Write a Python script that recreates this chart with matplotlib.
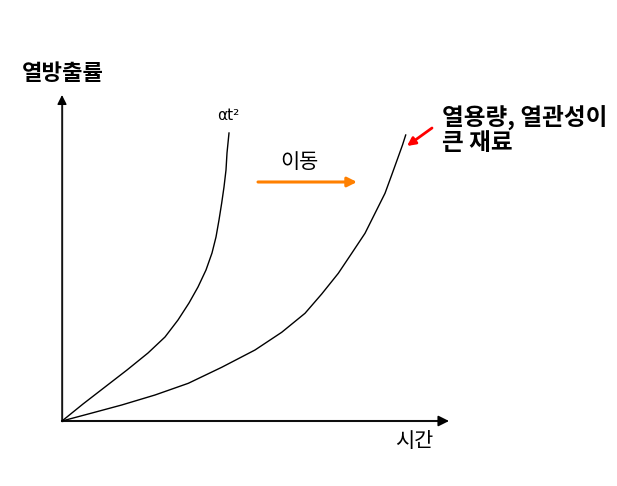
import numpy as np
import matplotlib.pyplot as plt

plt.rcParams['font.family'] = ['Noto Sans CJK KR', 'DejaVu Sans']

# 개략도: 원점 기준 좌표 (시간, 열방출률)
t_fast = [0, 21, 43, 65, 86, 103, 116, 127, 136, 144, 150, 154, 157, 159.7, 162, 164, 165, 167]
q_fast = [0, 17, 34, 51, 68, 84, 101, 118, 134, 151, 168, 184, 201, 218, 234, 251, 268, 288]

t_slow = [0, 30, 59.7, 93, 126.3, 159.7, 193, 219.7, 243, 259.7, 276.3, 289.7, 303, 313, 323,
          329.7, 336.3, 340.5, 343.7]
q_slow = [0, 8, 16, 26, 37.7, 53.7, 71, 88.7, 107.7, 127, 147.7, 167.7, 187.7, 207.7, 227.7,
          246, 264.3, 276, 286]

x_max, y_max = 387, 326
ylabel, xlabel = '열방출률', '시간'
fast_label = 'αt²'
shift_label = '이동'
slow_label = '열용량, 열관성이\n큰 재료'

fig = plt.figure(figsize=(6.17, 4.86), dpi=100)
ax = fig.add_axes([0, 0, 1, 1])
ax.set_xlim(-62, 555)
ax.set_ylim(-65, 421)
ax.axis('off')

# axes with arrows
ax.annotate('', xy=(x_max, 0), xytext=(0, 0),
            arrowprops=dict(arrowstyle='-|>', color='black', lw=1.2,
                            mutation_scale=16, shrinkA=0, shrinkB=0))
ax.plot([0, x_max - 10], [0, 0], color='#555555', lw=1.5)
ax.annotate('', xy=(0, y_max), xytext=(0, 0),
            arrowprops=dict(arrowstyle='-|>', color='black', lw=1.0,
                            mutation_scale=14, shrinkA=0, shrinkB=0))
ax.plot([0, 0], [0, y_max - 10], color='#444444', lw=1.0)

ax.plot(t_fast, q_fast, color='black', lw=1.0)
ax.plot(t_slow, q_slow, color='black', lw=1.0)

ax.text(-40, 347, ylabel, fontsize=16, fontweight='bold', va='center', ha='left')
ax.text(352, -20, xlabel, fontsize=15, va='center', ha='center')
ax.text(166, 305, fast_label, fontsize=11, va='center', ha='center',
        family=['DejaVu Sans'])

ax.annotate('', xy=(295, 239), xytext=(196, 239),
            arrowprops=dict(arrowstyle='-|>', color='#ff8000', lw=2.2,
                            mutation_scale=14, shrinkA=0, shrinkB=0))
ax.text(237, 259, shift_label, fontsize=15, va='center', ha='center')

ax.annotate('', xy=(345, 275), xytext=(370, 293),
            arrowprops=dict(arrowstyle='-|>', color='red', lw=2.0,
                            mutation_scale=12, shrinkA=0, shrinkB=0))
ax.text(380, 291, slow_label, fontsize=17, fontweight='bold', va='center',
        ha='left', linespacing=1.05)

fig.savefig('out.png', dpi=100)
